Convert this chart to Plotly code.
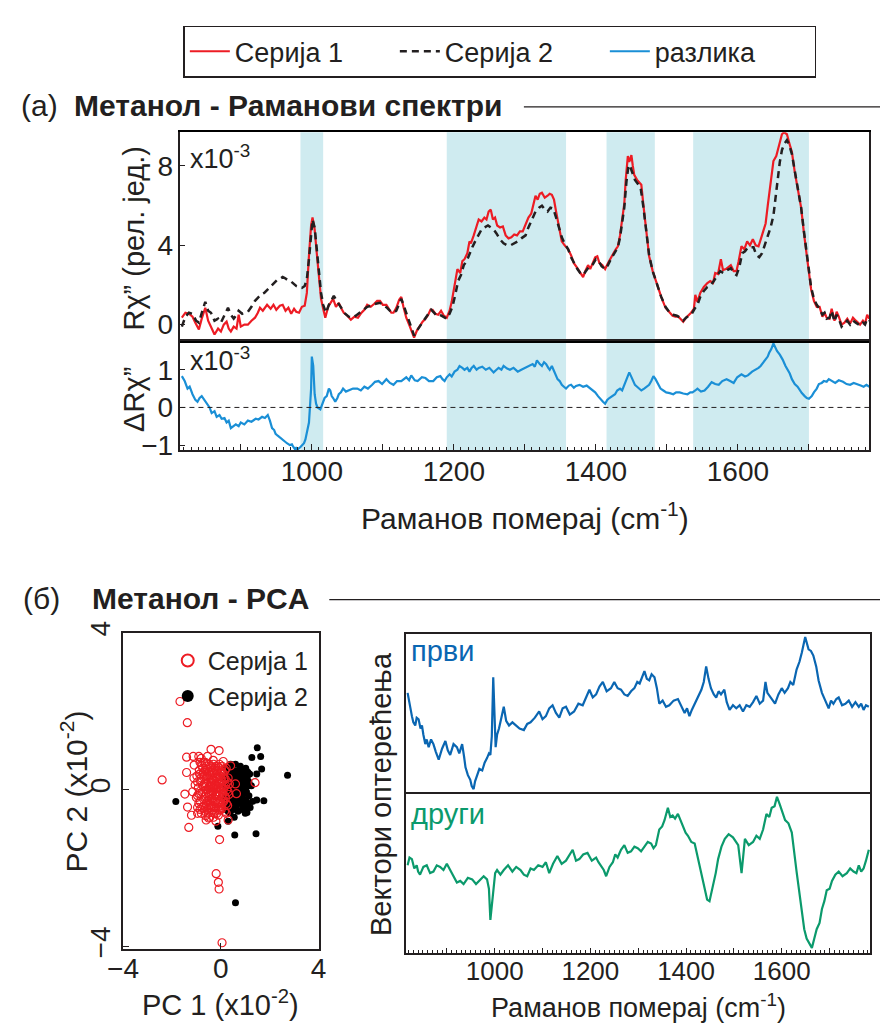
import plotly.graph_objects as go

# ---------------- (а) Raman spectra (x10^-3) ----------------
wn_s1 = [817,822,827,832,836,841,845,850,854,858,863,868,872,876,880,883,886,890,894,897,900,905,910,915,920,924,927,931,937,942,946,950,955,959,963,967,971,975,978,982,986,990,993,996,999,1001,1004,1007,1010,1013,1016,1019,1023,1027,1030,1034,1038,1041,1045,1050,1055,1060,1065,1070,1074,1078,1083,1088,1092,1096,1100,1105,1109,1112,1115,1119,1123,1126,1129,1133,1137,1141,1144,1148,1152,1156,1160,1164,1167,1170,1174,1178,1182,1186,1190,1194,1197,1201,1205,1209,1212,1215,1219,1222,1224,1228,1232,1235,1239,1243,1246,1249,1252,1255,1258,1261,1265,1269,1273,1277,1281,1285,1289,1293,1297,1301,1305,1309,1312,1315,1318,1321,1324,1328,1332,1335,1338,1341,1344,1348,1352,1356,1361,1365,1369,1373,1378,1382,1385,1389,1392,1396,1399,1402,1405,1409,1413,1417,1421,1424,1428,1431,1434,1437,1440,1442,1445,1447,1450,1452,1454,1458,1461,1464,1467,1470,1475,1480,1486,1492,1498,1504,1508,1512,1516,1519,1523,1527,1530,1534,1538,1540,1543,1547,1552,1557,1561,1565,1568,1572,1576,1579,1583,1587,1590,1594,1598,1601,1605,1609,1613,1617,1621,1625,1629,1633,1636,1639,1642,1646,1650,1654,1658,1662,1665,1669,1672,1676,1680,1684,1689,1693,1697,1700,1703,1707,1711,1715,1719,1722,1725,1729,1732,1736,1739,1742,1746,1750,1754,1758,1762,1766,1769,1772,1776,1779,1782,1785]
s1 = [0.35,0.6,0.55,0.4,0.1,-0.25,0.3,0.85,0.2,-0.1,-0.5,-0.2,-0.35,0.0,0.15,-0.2,-0.35,-0.1,-0.2,0.5,-0.1,0.0,0.0,0.2,0.35,0.6,0.85,0.7,1.0,0.8,1.0,0.75,0.95,1.0,0.7,0.85,0.55,0.8,0.65,0.6,0.9,0.95,1.6,3.5,5.0,5.4,4.8,3.6,2.5,1.3,0.8,0.35,0.9,1.1,1.3,0.9,1.1,0.85,0.6,0.45,0.25,0.4,0.35,0.6,0.75,1.0,0.9,1.05,1.2,1.2,1.0,1.0,0.8,0.6,0.6,0.85,1.25,1.4,0.9,0.35,0.0,-0.4,-0.65,-0.3,-0.05,0.15,0.3,0.5,0.75,0.75,0.55,0.5,0.7,0.45,0.35,0.7,1.15,1.9,2.8,2.6,3.2,3.3,3.6,4.2,4.1,4.5,4.9,5.3,5.2,5.4,5.3,5.7,5.8,5.3,5.4,5.0,4.9,4.95,4.5,4.35,4.4,4.55,4.5,4.7,4.7,5.05,5.4,5.6,6.1,6.5,6.3,6.6,6.65,6.4,6.5,6.6,6.55,6.3,5.7,5.0,4.2,4.0,3.8,3.5,3.1,2.9,2.6,2.4,2.7,3.0,2.8,3.1,3.4,3.45,3.1,3.0,2.8,3.1,3.4,3.55,3.8,3.95,4.5,5.3,6.1,7.3,8.5,8.2,8.55,8.0,7.55,7.3,7.2,7.05,6.0,5.0,3.45,2.7,2.0,1.4,0.85,0.6,0.45,0.4,0.4,0.3,0.15,0.35,0.45,0.6,0.8,1.5,1.15,1.6,1.9,2.1,2.2,2.1,2.6,2.55,3.3,2.75,2.8,2.9,3.0,2.7,2.7,3.2,3.95,3.8,4.2,4.0,4.3,4.0,3.95,4.4,4.8,5.1,6.0,7.2,8.25,8.5,9.0,9.6,9.7,9.6,9.2,8.7,7.7,6.8,5.9,4.6,3.4,2.5,1.8,1.2,0.9,0.9,0.4,0.6,0.35,0.3,0.8,0.2,0.65,0.4,0.0,0.1,0.3,0.05,0.35,0.2,0.1,0.0,0.2,0.05,0.5,0.3]

wn_s2 = [817,822,827,832,837,841,846,850,854,858,863,868,872,877,882,886,890,894,897,902,906,910,915,920,924,928,933,937,942,946,951,955,959,962,966,970,974,978,982,986,990,993,996,999,1001,1004,1007,1010,1013,1016,1020,1024,1028,1031,1035,1039,1043,1047,1052,1057,1062,1068,1073,1078,1084,1090,1096,1101,1106,1110,1115,1119,1123,1126,1130,1134,1138,1141,1144,1148,1152,1156,1160,1164,1168,1172,1176,1180,1185,1190,1194,1198,1202,1206,1210,1214,1218,1222,1226,1230,1235,1239,1243,1248,1252,1256,1260,1265,1270,1275,1280,1285,1290,1295,1301,1305,1310,1315,1320,1324,1328,1332,1336,1340,1344,1348,1352,1356,1361,1365,1369,1374,1378,1382,1386,1390,1395,1400,1404,1408,1413,1417,1421,1424,1428,1431,1434,1437,1440,1443,1446,1449,1452,1455,1459,1463,1467,1471,1475,1480,1486,1492,1498,1504,1509,1514,1519,1523,1527,1531,1535,1539,1543,1547,1552,1557,1562,1566,1570,1575,1580,1585,1590,1594,1598,1602,1606,1610,1614,1618,1622,1626,1630,1634,1638,1642,1646,1650,1653,1656,1659,1662,1665,1669,1672,1676,1680,1684,1689,1693,1697,1700,1703,1707,1711,1715,1719,1722,1725,1729,1732,1736,1739,1742,1746,1750,1754,1758,1762,1766,1769,1772,1776,1779,1782,1785]
s2 = [-0.1,0.4,0.6,0.55,0.2,0.1,0.7,1.15,0.7,0.6,0.2,0.3,0.1,0.45,0.85,0.5,0.3,0.5,0.7,0.55,0.6,0.65,0.9,1.2,1.35,1.5,1.6,1.75,1.95,2.1,2.25,2.3,2.4,2.35,2.25,2.2,2.05,1.95,1.9,1.85,1.95,2.3,3.3,4.8,5.3,4.9,3.8,2.7,1.6,1.0,0.6,1.0,1.3,1.45,1.2,1.0,0.8,0.55,0.4,0.35,0.45,0.6,0.75,0.9,0.95,1.05,1.1,0.95,0.85,0.7,0.6,0.7,1.1,1.3,0.9,0.5,0.1,-0.25,-0.55,-0.3,-0.1,0.1,0.35,0.55,0.75,0.6,0.45,0.5,0.4,0.3,0.55,0.9,1.5,2.2,2.5,3.0,3.2,3.6,3.9,4.2,4.5,4.8,4.9,5.0,4.9,4.8,4.6,4.3,4.1,4.0,4.0,4.1,4.2,4.35,4.5,4.9,5.3,5.7,5.9,6.0,5.8,5.7,5.9,5.85,5.4,4.9,4.4,4.1,3.8,3.4,3.1,2.8,2.6,2.5,2.7,2.9,3.0,3.3,3.2,2.95,2.8,3.0,3.3,3.5,3.7,3.9,4.4,5.1,5.9,7.2,8.05,7.9,7.6,7.3,7.1,6.9,5.9,4.8,3.5,2.7,2.0,1.4,0.9,0.6,0.5,0.45,0.35,0.2,0.35,0.45,0.55,0.8,1.0,1.4,1.7,1.9,2.0,2.2,2.4,2.7,2.6,2.75,2.85,2.6,2.5,2.9,3.6,3.7,3.9,3.9,3.9,3.5,3.4,3.6,4.0,4.4,4.9,5.5,6.4,7.5,8.2,8.8,9.1,9.3,9.1,8.6,7.7,6.9,5.9,4.7,3.5,2.6,1.9,1.3,1.0,0.8,0.5,0.6,0.3,0.35,0.7,0.15,0.5,0.3,-0.1,0.05,0.2,0.0,0.2,0.1,0.0,-0.05,0.1,0.0,0.3,0.2]

wn_diff = [817,821,825,828,832,836,839,842,845,849,852,856,859,863,866,870,873,877,880,883,886,890,893,897,900,905,910,915,921,925,930,934,938,941,944,947,949,952,955,958,962,965,969,972,974,976,978,981,984,987,989,991,993,996,999,1000,1002,1004,1006,1008,1012,1016,1018,1021,1024,1026,1028,1030,1033,1036,1038,1041,1044,1048,1053,1058,1064,1069,1074,1079,1085,1089,1094,1099,1105,1110,1115,1120,1126,1130,1133,1137,1140,1145,1149,1155,1160,1165,1171,1176,1181,1184,1187,1190,1194,1197,1201,1205,1208,1212,1215,1219,1222,1225,1228,1232,1235,1240,1245,1250,1256,1260,1263,1267,1270,1275,1279,1284,1290,1295,1300,1305,1311,1314,1317,1321,1324,1327,1330,1333,1335,1338,1341,1344,1346,1349,1352,1355,1358,1362,1365,1369,1372,1377,1382,1387,1393,1396,1399,1403,1406,1410,1413,1416,1419,1423,1427,1430,1434,1437,1440,1443,1445,1447,1449,1451,1455,1458,1461,1464,1468,1471,1475,1478,1481,1484,1487,1491,1495,1499,1504,1509,1513,1518,1523,1529,1533,1536,1540,1543,1548,1553,1558,1563,1568,1573,1578,1584,1589,1594,1599,1605,1610,1614,1620,1625,1629,1632,1636,1639,1642,1644,1647,1650,1652,1655,1659,1663,1667,1670,1673,1676,1680,1684,1687,1690,1694,1697,1700,1704,1707,1711,1714,1718,1721,1725,1728,1732,1737,1742,1748,1753,1758,1763,1769,1773,1777,1781,1785]
diff = [0.83,0.7,0.5,0.55,0.35,0.2,0.15,0.25,0.3,0.2,0.1,0.0,-0.15,-0.1,-0.25,-0.2,-0.3,-0.28,-0.4,-0.35,-0.55,-0.5,-0.45,-0.5,-0.4,-0.45,-0.35,-0.38,-0.3,-0.32,-0.25,-0.28,-0.2,-0.35,-0.55,-0.6,-0.7,-0.75,-0.8,-0.85,-0.9,-0.95,-1.0,-0.98,-1.05,-1.1,-1.07,-1.1,-1.05,-1.0,-0.95,-0.85,-0.7,-0.4,0.5,1.35,1.1,0.35,0.1,0.0,-0.05,0.15,0.25,0.3,0.5,0.45,0.3,0.25,0.15,0.25,0.35,0.4,0.5,0.42,0.45,0.5,0.5,0.45,0.55,0.5,0.6,0.68,0.7,0.62,0.75,0.65,0.6,0.7,0.7,0.75,0.8,0.72,0.85,0.72,0.7,0.8,0.78,0.7,0.7,0.8,0.83,0.75,0.7,0.8,0.88,0.82,0.95,1.0,1.1,1.05,1.0,1.05,0.95,1.05,1.1,1.0,1.05,1.08,1.0,1.05,0.93,1.0,1.05,1.0,1.1,1.03,1.0,1.05,0.95,1.0,1.05,1.1,1.15,1.08,1.25,1.15,1.1,1.2,1.15,1.05,1.0,1.1,0.95,0.85,0.75,0.7,0.6,0.55,0.5,0.58,0.6,0.52,0.57,0.6,0.55,0.58,0.5,0.45,0.4,0.3,0.23,0.15,0.1,0.2,0.25,0.3,0.35,0.45,0.5,0.45,0.6,0.7,0.8,0.93,0.85,0.75,0.6,0.55,0.5,0.45,0.5,0.55,0.6,0.7,0.83,0.75,0.65,0.5,0.45,0.4,0.38,0.35,0.4,0.4,0.37,0.35,0.4,0.4,0.45,0.5,0.42,0.45,0.55,0.67,0.62,0.6,0.7,0.75,0.7,0.65,0.8,0.88,0.82,0.85,0.95,1.0,1.05,1.1,1.2,1.27,1.35,1.45,1.55,1.7,1.6,1.5,1.4,1.27,1.1,1.0,0.9,0.75,0.62,0.55,0.45,0.38,0.3,0.25,0.23,0.3,0.4,0.5,0.62,0.65,0.7,0.68,0.75,0.7,0.65,0.72,0.68,0.62,0.6,0.65,0.62,0.58,0.55,0.6,0.55]

bands = [[984, 1016], [1190, 1358], [1415, 1483], [1537, 1700]]

# ---------------- (б) PCA loadings (arbitrary units) ----------------
wn_pc1 = [818,822,827,830,834,837,841,845,848,851,855,858,862,867,872,877,883,890,897,902,907,914,921,926,932,936,939,944,949,952,956,959,963,968,974,979,984,988,991,994,997,999,1002,1005,1009,1014,1019,1024,1030,1037,1044,1052,1061,1068,1075,1084,1093,1100,1107,1114,1121,1128,1135,1142,1149,1157,1166,1175,1184,1191,1198,1205,1212,1219,1226,1234,1243,1250,1257,1264,1271,1278,1285,1292,1298,1303,1308,1313,1318,1323,1328,1334,1339,1344,1351,1358,1365,1374,1383,1390,1397,1402,1407,1412,1418,1425,1432,1437,1442,1447,1452,1458,1463,1468,1473,1480,1485,1491,1498,1505,1512,1519,1526,1533,1540,1547,1554,1561,1566,1570,1575,1580,1586,1593,1600,1606,1613,1618,1624,1631,1637,1642,1649,1656,1661,1666,1672,1677,1684,1691,1698,1703,1708,1714,1719,1726,1733,1740,1747,1754,1761,1766,1771,1776,1782]
pc1 = [0.63,0.55,0.48,0.44,0.42,0.47,0.46,0.40,0.42,0.36,0.30,0.33,0.28,0.33,0.30,0.25,0.20,0.27,0.32,0.26,0.23,0.30,0.28,0.24,0.30,0.22,0.15,0.10,0.07,0.03,0.01,0.06,0.09,0.14,0.13,0.18,0.21,0.24,0.23,0.35,0.73,0.55,0.28,0.36,0.40,0.47,0.54,0.45,0.42,0.44,0.42,0.40,0.39,0.43,0.44,0.47,0.51,0.46,0.48,0.53,0.55,0.50,0.47,0.53,0.54,0.49,0.51,0.56,0.55,0.60,0.65,0.60,0.62,0.67,0.70,0.64,0.66,0.70,0.66,0.65,0.62,0.61,0.64,0.66,0.70,0.69,0.73,0.77,0.72,0.71,0.75,0.73,0.66,0.56,0.58,0.54,0.55,0.58,0.59,0.54,0.50,0.53,0.48,0.52,0.56,0.60,0.65,0.70,0.80,0.72,0.66,0.62,0.60,0.64,0.62,0.65,0.57,0.52,0.55,0.53,0.55,0.51,0.55,0.54,0.57,0.61,0.56,0.58,0.70,0.63,0.61,0.59,0.56,0.62,0.66,0.63,0.66,0.70,0.68,0.78,0.83,0.89,0.99,0.91,0.90,0.87,0.80,0.71,0.63,0.58,0.53,0.58,0.56,0.59,0.60,0.55,0.56,0.58,0.54,0.57,0.54,0.56,0.52,0.55,0.54]

wn_pc2 = [818,822,827,832,837,840,844,851,858,865,872,879,886,893,900,905,911,916,921,928,935,944,953,961,970,977,984,988,991,994,998,1001,1005,1012,1019,1028,1037,1045,1054,1061,1068,1075,1082,1091,1100,1107,1114,1122,1131,1140,1149,1156,1163,1170,1177,1185,1194,1203,1212,1217,1222,1228,1233,1240,1247,1252,1257,1264,1271,1278,1285,1292,1299,1306,1313,1320,1327,1332,1337,1344,1350,1355,1362,1367,1372,1377,1383,1388,1393,1399,1404,1411,1418,1423,1428,1434,1439,1444,1449,1452,1456,1462,1467,1474,1481,1489,1498,1504,1509,1516,1523,1531,1540,1547,1554,1561,1568,1574,1579,1585,1590,1596,1601,1607,1614,1621,1631,1642,1647,1652,1658,1663,1668,1673,1679,1684,1689,1694,1700,1705,1712,1719,1727,1736,1743,1750,1756,1761,1766,1771,1776,1782]
pc2 = [0.55,0.60,0.59,0.53,0.55,0.51,0.49,0.54,0.55,0.50,0.51,0.55,0.54,0.52,0.56,0.53,0.50,0.46,0.44,0.45,0.43,0.47,0.46,0.43,0.46,0.48,0.46,0.40,0.20,0.30,0.43,0.50,0.52,0.49,0.52,0.55,0.51,0.54,0.52,0.49,0.48,0.53,0.52,0.55,0.54,0.57,0.50,0.56,0.61,0.56,0.58,0.62,0.65,0.58,0.59,0.62,0.63,0.58,0.60,0.57,0.55,0.52,0.48,0.54,0.57,0.62,0.60,0.65,0.68,0.63,0.64,0.67,0.66,0.64,0.67,0.70,0.69,0.66,0.68,0.78,0.80,0.84,0.92,0.86,0.87,0.85,0.88,0.84,0.80,0.76,0.74,0.70,0.69,0.62,0.55,0.45,0.38,0.33,0.32,0.36,0.41,0.50,0.59,0.67,0.72,0.75,0.73,0.70,0.68,0.50,0.72,0.68,0.70,0.74,0.72,0.78,0.88,0.86,0.92,0.93,0.99,0.94,0.90,0.84,0.82,0.76,0.51,0.23,0.14,0.08,0.05,0.02,0.08,0.14,0.18,0.27,0.32,0.39,0.40,0.45,0.49,0.51,0.48,0.50,0.53,0.51,0.50,0.55,0.51,0.53,0.58,0.65]

# ---------------- (б) PCA scores (x10^-2) ----------------
sc1_x = [-1.05,-1.0,-0.98,-0.95,-0.92,-0.88,-0.85,-0.83,-0.8,-0.78,-0.75,-0.73,-0.7,-0.68,-0.66,-0.64,-0.62,-0.6,-0.58,-0.56,-0.55,-0.53,-0.51,-0.5,-0.48,-0.46,-0.45,-0.43,-0.41,-0.4,-0.38,-0.36,-0.35,-0.33,-0.31,-0.3,-0.28,-0.26,-0.25,-0.23,-0.21,-0.2,-0.18,-0.16,-0.15,-0.13,-0.11,-0.1,-0.08,-0.06,-0.05,-0.03,-0.01,0.0,0.02,0.04,0.06,0.08,0.1,0.12,0.14,0.16,0.18,0.2,0.22,0.25,0.28,0.3,0.33,-0.9,-0.7,-0.6,-0.5,-0.4,-0.3,-0.2,-0.1,-0.65,-0.45,-0.35,-0.25,-0.15,-0.05,0.05,-1.15,-1.1,-0.95,-0.85,-0.55,-0.2,0.1,0.35,
         -0.95,-0.9,-0.87,-0.82,-0.8,-0.77,-0.74,-0.72,-0.7,-0.67,-0.65,-0.63,-0.61,-0.59,-0.57,-0.55,-0.53,-0.51,-0.49,-0.47,-0.45,-0.43,-0.42,-0.4,-0.38,-0.37,-0.35,-0.33,-0.32,-0.3,-0.28,-0.27,-0.25,-0.24,-0.22,-0.2,-0.18,-0.17,-0.15,-0.13,-0.12,-0.1,-0.08,-0.07,-0.05,-0.03,-0.02,0.0,0.02,0.04,0.06,0.08,0.1,0.12,0.15,0.18,0.2,0.23,0.26,0.3,-0.6,-0.5,-0.3,-0.1,-0.85,-0.95,0.05,-0.45,-0.7,0.22,
         -1.67,-1.37,-2.4,-0.4,-0.07,-1.4,-1.13,-0.9,-0.8,-1.09,0.4,-1.4,-1.47,-1.36,-1.2,-1.31,-0.6,-0.05,-0.19,-0.1,-0.07,0.05,1.4,0.3,0.6,0.64]
sc1_y = [0.12,-0.2,0.35,-0.45,0.05,0.5,-0.3,0.22,-0.6,0.62,-0.05,0.4,-0.42,0.15,-0.18,0.7,-0.66,0.3,0.0,-0.5,0.52,-0.28,0.2,-0.72,0.65,-0.1,0.38,-0.38,0.08,-0.58,0.55,-0.22,0.25,-0.05,0.75,-0.7,0.42,-0.45,0.12,-0.3,0.6,-0.12,0.3,-0.6,0.02,0.48,-0.35,0.18,-0.15,0.65,-0.52,0.35,-0.25,0.05,0.5,-0.4,0.2,-0.1,0.4,-0.3,0.08,-0.55,0.28,-0.2,0.55,0.0,-0.4,0.3,-0.12,-0.1,0.45,-0.35,0.05,0.2,-0.2,0.1,-0.05,0.08,-0.15,0.45,-0.55,0.4,0.15,-0.2,-0.05,0.3,-0.6,0.7,0.85,-0.8,0.72,0.15,
         0.2,-0.35,0.4,-0.1,0.3,-0.45,0.55,0.1,-0.25,0.35,-0.55,0.5,-0.1,0.15,-0.4,0.35,0.0,-0.6,0.45,-0.25,0.1,0.6,-0.45,0.3,-0.1,0.15,-0.4,0.5,-0.3,0.05,0.25,-0.6,0.55,-0.15,0.15,-0.45,0.5,-0.05,0.25,-0.3,0.6,-0.5,0.05,0.3,-0.35,0.45,-0.1,0.25,-0.5,0.1,0.45,-0.3,0.0,0.3,-0.15,0.5,0.1,-0.35,0.2,-0.05,0.6,-0.45,0.65,-0.65,-0.5,-0.15,0.6,-0.7,0.7,-0.6,
         2.25,1.71,0.25,1.03,1.0,0.83,0.85,0.85,0.8,0.63,0.61,0.44,-0.11,-0.44,-0.65,-0.96,-0.77,-1.27,-2.14,-2.36,-2.53,-3.9,0.18,-0.77,0.15,-0.1]
sc2_x = [0.15,0.18,0.2,0.22,0.25,0.28,0.3,0.33,0.35,0.38,0.4,0.42,0.45,0.47,0.5,0.52,0.55,0.57,0.6,0.62,0.64,0.66,0.68,0.7,0.72,0.75,0.77,0.8,0.82,0.85,0.87,0.9,0.92,0.95,0.97,1.0,1.02,1.05,1.08,1.1,1.12,1.15,1.18,1.2,0.35,0.55,0.65,0.75,0.85,0.95,0.45,0.58,0.7,0.8,0.9,0.6,1.0,0.5,0.4,1.25,1.3,0.3,
         0.2,0.25,0.3,0.35,0.4,0.45,0.5,0.55,0.6,0.65,0.7,0.75,0.8,0.85,0.9,0.95,1.0,1.05,1.1,1.15,0.62,0.72,0.82,0.92,0.52,0.42,0.78,0.68,0.88,0.98,0.58,0.48,
         1.49,1.63,1.27,1.67,1.47,2.73,0.31,-1.84,1.47,1.76,1.07,-0.12,0.57,1.44,0.6,0.3]
sc2_y = [0.3,-0.2,0.55,-0.5,0.05,-0.35,0.4,-0.1,0.6,-0.6,0.2,-0.25,0.5,-0.45,0.0,0.3,-0.7,-0.15,0.65,0.1,-0.4,0.35,-0.05,-0.55,0.5,0.15,-0.3,0.6,-0.1,0.3,-0.5,0.05,0.45,-0.25,0.2,-0.6,0.55,-0.05,0.3,-0.35,0.1,-0.15,0.4,-0.45,0.0,0.45,-0.25,0.3,-0.3,0.0,0.15,0.2,0.05,-0.2,0.2,-0.45,0.35,-0.3,0.65,0.1,-0.3,-0.55,
         0.1,-0.15,0.15,-0.3,0.4,-0.1,0.5,0.1,-0.2,0.45,-0.35,-0.1,0.2,0.5,-0.4,0.35,0.1,-0.3,0.45,0.2,0.3,-0.2,0.05,-0.1,-0.5,0.0,0.4,0.2,-0.2,-0.45,-0.05,0.35,
         1.07,0.85,0.82,0.53,0.4,0.37,0.33,-0.3,-0.26,-0.28,-0.58,-0.93,-1.15,-1.12,-2.88,-0.8]

# ---------------- styling ----------------
W, H = 888, 1032
def px(x): return x / W
def py(y): return 1 - y / H

FONT = "Liberation Sans, Arial, sans-serif"
INK = "#231f20"
RED = "#ed1c24"
BLUE = "#1a8fd6"
PC1C = "#0a66b2"
PC2C = "#0b9a6c"
SHADE = "#cfebf0"

fig = go.Figure()

fig.add_trace(go.Scatter(x=wn_s1, y=s1, mode="lines", name="Серија 1",
                         line=dict(color=RED, width=2.2), xaxis="x", yaxis="y", legend="legend"))
fig.add_trace(go.Scatter(x=wn_s2, y=s2, mode="lines", name="Серија 2",
                         line=dict(color=INK, width=2.5, dash="7px,5px"), xaxis="x", yaxis="y", legend="legend"))
fig.add_trace(go.Scatter(x=wn_diff, y=diff, mode="lines", name="разлика",
                         line=dict(color=BLUE, width=2.2), xaxis="x2", yaxis="y2", legend="legend"))

fig.add_trace(go.Scatter(x=sc2_x, y=sc2_y, mode="markers", name="Серија 2",
                         marker=dict(color="black", size=7, line=dict(width=0)),
                         xaxis="x3", yaxis="y3", legend="legend2"))
fig.add_trace(go.Scatter(x=sc1_x, y=sc1_y, mode="markers", name="Серија 1",
                         marker=dict(color=RED, size=8, symbol="circle-open", line=dict(width=1.2)),
                         xaxis="x3", yaxis="y3", legend="legend2"))

fig.add_trace(go.Scatter(x=wn_pc1, y=pc1, mode="lines", line=dict(color=PC1C, width=2.2),
                         xaxis="x4", yaxis="y4", showlegend=False))
fig.add_trace(go.Scatter(x=wn_pc2, y=pc2, mode="lines", line=dict(color=PC2C, width=2.2),
                         xaxis="x5", yaxis="y5", showlegend=False))

tickfont = dict(family=FONT, size=28, color=INK)
xr = [815, 1785]
major = [900, 1000, 1100, 1200, 1300, 1400, 1500, 1600, 1700]
major_txt = ["", "1000", "", "1200", "", "1400", "", "1600", ""]

def box(**kw):
    d = dict(showline=True, linecolor=INK, linewidth=1.5, mirror=True, showgrid=False,
             zeroline=False, tickfont=tickfont, ticks="inside", tickcolor=INK)
    d.update(kw)
    return d

minor = dict(tickmode="linear", tick0=0, dtick=10, ticklen=3, ticks="inside", tickcolor=INK)
yA1, yA0, yAm = 123, 448, 337
fig.update_layout(
    width=W, height=H, margin=dict(l=0, r=0, t=0, b=0),
    paper_bgcolor="white", plot_bgcolor="rgba(0,0,0,0)",
    font=dict(family=FONT, color=INK),
    xaxis=box(domain=[px(169), px(877)], range=xr, anchor="y", showticklabels=False, ticks="",
              matches="x2", linecolor="black", linewidth=1.6),
    yaxis=box(domain=[py(yAm), py(yA1)], range=[-0.85, 9.7], anchor="x",
              tickvals=[0, 4, 8], ticklen=5),
    xaxis2=box(domain=[px(169), px(877)], range=xr, anchor="y2",
               tickmode="array", tickvals=major, ticktext=major_txt, ticklen=6, minor=minor,
               ticklabelstandoff=-4),
    yaxis2=box(domain=[py(yA0), py(yAm)], range=[-1.13, 1.75], anchor="x2",
               tickvals=[-1, 0, 1], ticklen=5),
    xaxis3=box(domain=[px(110), px(311)], range=[-4, 4], anchor="y3",
               tickvals=[-4, 0, 4], ticklen=6, ticklabelstandoff=-6),
    yaxis3=box(domain=[py(958), py(635)], range=[-4.05, 4.0], anchor="x3",
               tickvals=[-4, 0, 4], ticklen=6, tickangle=-90),
    xaxis4=box(domain=[px(401), px(878)], range=xr, anchor="y4", showticklabels=False, ticks="",
               matches="x5"),
    yaxis4=box(domain=[py(798), py(636)], range=[-0.01, 1.01], anchor="x4",
               showticklabels=False, ticks=""),
    xaxis5=box(domain=[px(401), px(878)], range=xr, anchor="y5",
               tickmode="array", tickvals=major, ticktext=major_txt, ticklen=5, minor=minor,
               tickfont=dict(family=FONT, size=26, color=INK), ticklabelstandoff=-6),
    yaxis5=box(domain=[py(962), py(799.5)], range=[-0.01, 1.01], anchor="x5",
               showticklabels=False, ticks=""),
    legend=dict(orientation="h", x=px(172), y=py(14), xanchor="left", yanchor="top",
                bordercolor=INK, borderwidth=1.5, bgcolor="white",
                font=dict(family=FONT, size=27, color=INK), entrywidth=155, itemwidth=40,
                tracegroupgap=0),
    legend2=dict(x=px(306), y=py(640), xanchor="right", yanchor="top", bgcolor="rgba(0,0,0,0)",
                 font=dict(family=FONT, size=25, color=INK), traceorder="reversed",
                 itemsizing="constant", tracegroupgap=0),
    showlegend=True,
)

shapes = []
for b0, b1 in bands:
    shapes.append(dict(type="rect", xref="x", yref="paper", x0=b0, x1=b1,
                       y0=py(yA0), y1=py(yA1), fillcolor=SHADE, line=dict(width=0), layer="below"))
shapes.append(dict(type="line", xref="x2 domain", yref="y2", x0=0, x1=1, y0=0, y1=0,
                   line=dict(color=INK, width=1, dash="5px,4px")))
shapes.append(dict(type="line", xref="paper", yref="paper", x0=px(522), x1=1,
                   y0=py(97), y1=py(97), line=dict(color=INK, width=1.2)))
shapes.append(dict(type="line", xref="paper", yref="paper", x0=px(322), x1=1,
                   y0=py(601), y1=py(601), line=dict(color=INK, width=1.2)))
fig.update_layout(shapes=shapes)

def ann(x, y, text, size=24, color=INK, anchor="left", angle=0, bold=False):
    if bold:
        text = "<b>" + text + "</b>"
    fig.add_annotation(x=px(x), y=py(y), xref="paper", yref="paper", text=text, showarrow=False,
                       xanchor=anchor, yanchor="middle", textangle=angle,
                       font=dict(family=FONT, size=size, color=color))

ann(3, 96, "(а)", size=30)
ann(58, 96, "Метанол - Раманови спектри", size=30, bold=True)
ann(5, 600, "(б)", size=30)
ann(76, 600, "Метанол - PCA", size=30, bold=True)

ann(177, 148, "x10<sup>-3</sup>", size=27)
ann(177, 355, "x10<sup>-3</sup>", size=27)
ann(121, 232, "Rχ” (рел. јед.)", size=29, anchor="center", angle=-90)
ann(121, 396, "ΔRχ”", size=29, anchor="center", angle=-90)
ann(523, 515, "Раманов померај (cm<sup>-1</sup>)", size=30, anchor="center")

ann(60, 797, "PC 2 (x10<sup>-2</sup>)", size=30, anchor="center", angle=-90)
ann(210, 1014, "PC 1 (x10<sup>-2</sup>)", size=29, anchor="center")

ann(375, 800, "Вектори оптерећења", size=29, anchor="center", angle=-90)
ann(404, 654, "први", size=29, color=PC1C)
ann(404, 820, "други", size=29, color=PC2C)
ann(640, 1017, "Раманов померај (cm<sup>-1</sup>)", size=27, anchor="center")

fig.write_html("out.html")
